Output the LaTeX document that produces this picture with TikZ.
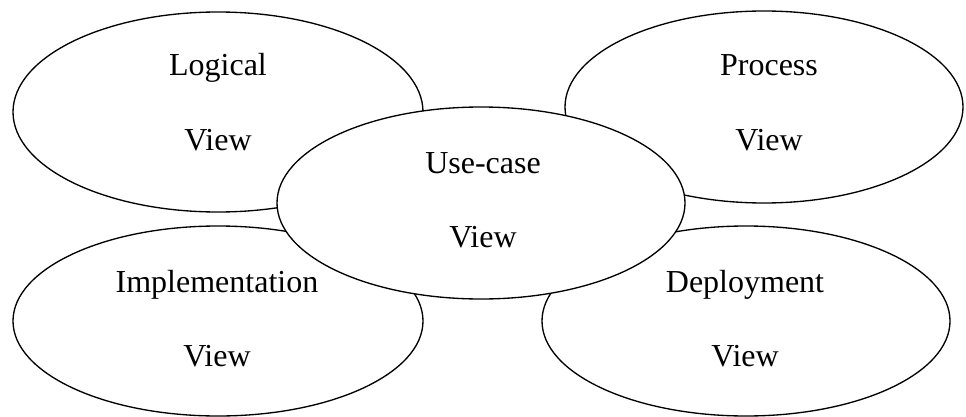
\documentclass[tikz,border=0pt]{standalone}
\usepackage{fontspec}
\setmainfont{Liberation Serif}
\usetikzlibrary{shapes.geometric}
\begin{document}
\begin{tikzpicture}[x=0.75pt,y=-0.75pt,
  view/.style={ellipse, draw=black, line width=1pt, fill=white, inner sep=0pt},
  lbl/.style={anchor=base, inner sep=0pt, font=\fontsize{24}{28}\selectfont}]
  \useasboundingbox (0,0) rectangle (966,417);
  % outer views
  \node[view, minimum width=307.5pt, minimum height=150pt] (logical) at (218,112) {};
  \node[view, minimum width=298.5pt, minimum height=144pt] (process) at (764,107) {};
  \node[view, minimum width=307.5pt, minimum height=142.5pt] (impl) at (218,321) {};
  \node[view, minimum width=306pt, minimum height=142.5pt] (deploy) at (746,321) {};
  % central view on top
  \node[view, minimum width=306pt, minimum height=144pt] (usecase) at (481,203) {};
  % labels
  \node[lbl] (logicalA) at (218,76) {Logical};
  \node[lbl] (logicalB) at (218,151) {View};
  \node[lbl] (processA) at (769,76) {Process};
  \node[lbl] (processB) at (769,151) {View};
  \node[lbl] (usecaseA) at (483,173) {Use-case};
  \node[lbl] (usecaseB) at (483,247) {View};
  \node[lbl] (implA) at (217,292) {Implementation};
  \node[lbl] (implB) at (217,366) {View};
  \node[lbl] (deployA) at (745,292) {Deployment};
  \node[lbl] (deployB) at (745,366) {View};
\end{tikzpicture}
\end{document}
